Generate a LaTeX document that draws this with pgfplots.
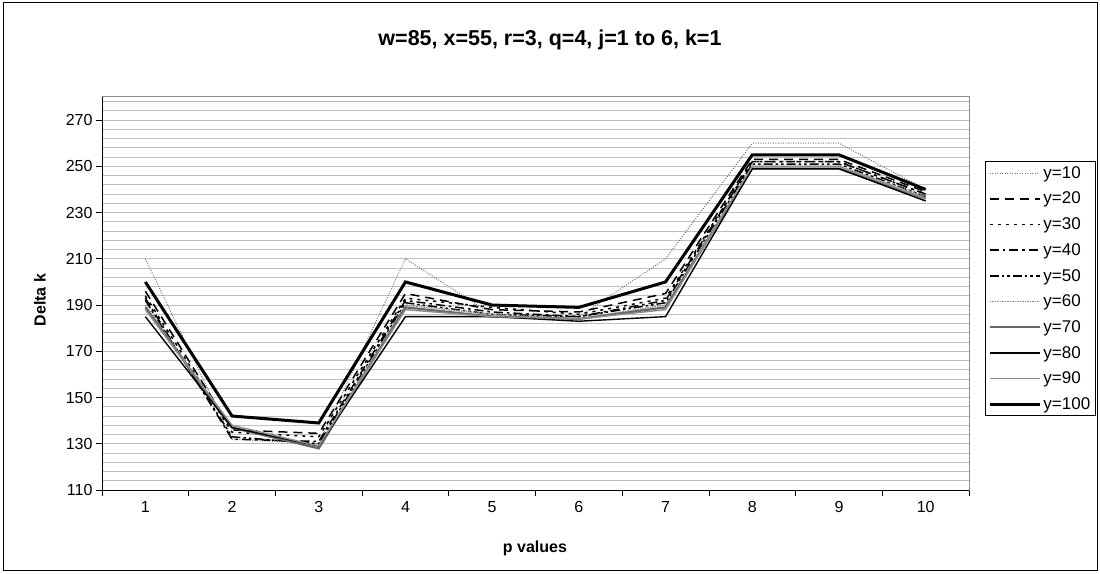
\documentclass[border=0pt]{standalone}
\usepackage{pgfplots}
\pgfplotsset{compat=1.18}
\usepackage{pgfplotstable}
\usepackage{fontspec}
\setmainfont{Liberation Sans}
\pgfplotstableread{
p y10 y20 y30 y40 y50 y60 y70 y80 y90 y100
1 210 196 194 193 192 190 189 185 188 200
2 132 136 135 132 133 137 137 137 138 142
3 130 134.5 133 131 130 129 128 129 129 139
4 210 195 193 192 191 190 189 185 188 200
5 186 188 189 187 186 186 185 185 185 190
6 185 187 186 185 185 184 184 183 184 189
7 210 195 193 192 191 190 189 185 188 200
8 260 253 252 252 251 250 249 249 250 255
9 260 253 252 252 251 250 249 249 250 255
10 240 239 238 238 237 237 236 235 236 240
}\datatable
\begin{document}
\begin{tikzpicture}
\useasboundingbox (0,0) rectangle (1100pt,573pt);
\draw[black, line width=1pt] (3pt,3pt) rectangle (1097pt,570pt);
\begin{axis}[
  at={(102pt,83pt)}, anchor=south west,
  scale only axis, width=867pt, height=393pt,
  xmin=0.5, xmax=10.5, ymin=110, ymax=280,
  xtick={0.5,1.5,...,10.5},
  xticklabels={1,2,3,4,5,6,7,8,9,10},
  x tick label as interval,
  ytick={110,130,...,270},
  minor ytick={114,118,...,278},
  xtick pos=bottom, ytick pos=left,
  ymajorgrids, yminorgrids,
  major grid style={draw=black!25, line width=1pt},
  minor grid style={draw=black!25, line width=1pt},
  minor tick length=0pt,
  tick align=outside, major tick length=6pt,
  tick style={black, line width=0.8pt},
  axis line style={draw=black!45, line width=1pt},
  /pgf/number format/assume math mode=true,
  ticklabel style={font=\fontsize{16}{18}\selectfont},
  xticklabel style={yshift=-2pt},
  legend style={at={(1.0185,0.837)}, anchor=north west, draw=black, line width=0.8pt,
    font=\fontsize{17}{19}\selectfont, row sep=8.3pt, inner xsep=3pt, inner ysep=3pt,
    cells={anchor=west}},
  legend cell align=left,
  legend image code/.code={\draw (0pt,0pt) -- (50pt,0pt);},
]
\addplot[black!55, line width=1pt, dash pattern=on 1pt off 1.5pt] table[x=p,y=y10] {\datatable};
\addlegendentry{y=10}
\addplot[black, line width=1.5pt, dash pattern=on 9pt off 6pt] table[x=p,y=y20] {\datatable};
\addlegendentry{y=20}
\addplot[black, line width=1.5pt, dash pattern=on 3pt off 5pt] table[x=p,y=y30] {\datatable};
\addlegendentry{y=30}
\addplot[black, line width=1.5pt, dash pattern=on 9pt off 4pt on 2.5pt off 4pt] table[x=p,y=y40] {\datatable};
\addlegendentry{y=40}
\addplot[black, line width=1.5pt, dash pattern=on 9pt off 3pt on 2.5pt off 3pt on 2.5pt off 3pt] table[x=p,y=y50] {\datatable};
\addlegendentry{y=50}
\addplot[black!45, line width=1.6pt, dash pattern=on 1.5pt off 1pt] table[x=p,y=y60] {\datatable};
\addlegendentry{y=60}
\addplot[black!60, line width=2.2pt] table[x=p,y=y70] {\datatable};
\addlegendentry{y=70}
\addplot[black, line width=1.4pt] table[x=p,y=y80] {\datatable};
\addlegendentry{y=80}
\addplot[black!45, line width=1.4pt] table[x=p,y=y90] {\datatable};
\addlegendentry{y=90}
\addplot[black, line width=3pt] table[x=p,y=y100] {\datatable};
\addlegendentry{y=100}
\draw[black, line width=1pt] (rel axis cs:0,1) -- (rel axis cs:0,0) -- (rel axis cs:1,0);
\end{axis}
\node[font=\fontsize{21.5}{24}\selectfont\bfseries] at (550pt,533pt) {w=85, x=55, r=3, q=4, j=1 to 6, k=1};
\node[font=\fontsize{16}{18}\selectfont\bfseries, rotate=90] at (40pt,273pt) {Delta k};
\node[font=\fontsize{16}{18}\selectfont\bfseries] at (535pt,25pt) {p values};
\end{tikzpicture}
\end{document}
